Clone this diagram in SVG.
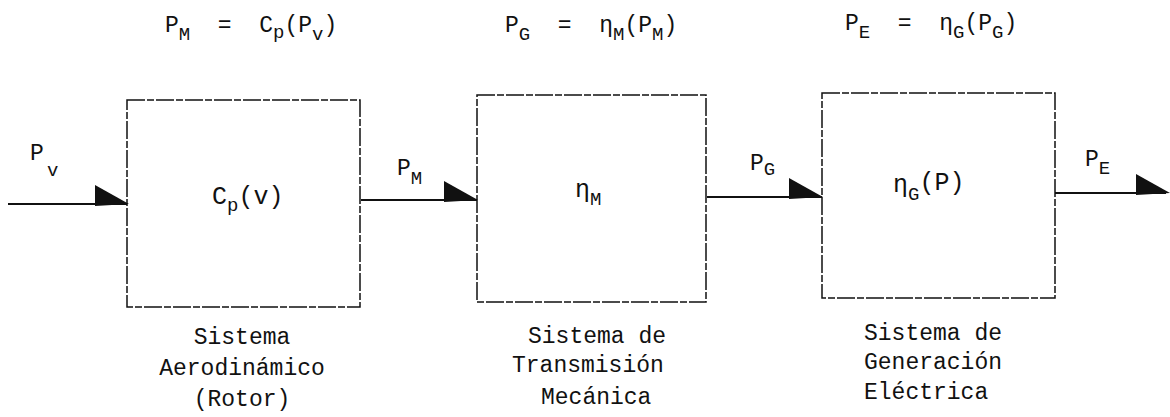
<svg xmlns="http://www.w3.org/2000/svg" width="1170" height="417" viewBox="0 0 1170 417">
<defs>
<style>
.box{fill:none;stroke:#111;stroke-width:1.5;stroke-dasharray:18 2 7 2}
.ln{stroke:#111;stroke-width:2.2;fill:none}
.ah{fill:#111}
text{font-family:"Liberation Mono","DejaVu Sans Mono",monospace;fill:#111}
.eq{font-size:23px}
.lb{font-size:23px}
.cl{font-size:25px}
.cap{font-size:23px}
.sub{font-size:19px}
.mid{text-anchor:middle}
</style>
</defs>
<g id="equations">
<text class="eq" x="165" y="32" xml:space="preserve">P<tspan class="sub" dy="8">M</tspan><tspan dy="-8">  =  C</tspan><tspan class="sub" dy="6">p</tspan><tspan dy="-6">(P</tspan><tspan class="sub" dy="8">v</tspan><tspan dy="-8">)</tspan></text>
<text class="eq" x="505" y="32" xml:space="preserve">P<tspan class="sub" dy="8">G</tspan><tspan dy="-8">  =  η</tspan><tspan class="sub" dy="8">M</tspan><tspan dy="-8">(P</tspan><tspan class="sub" dy="8">M</tspan><tspan dy="-8">)</tspan></text>
<text class="eq" x="845" y="30" xml:space="preserve">P<tspan class="sub" dy="8">E</tspan><tspan dy="-8">  =  η</tspan><tspan class="sub" dy="8">G</tspan><tspan dy="-8">(P</tspan><tspan class="sub" dy="8">G</tspan><tspan dy="-8">)</tspan></text>
</g>
<g id="connectors">
<line class="ln" x1="8" y1="204" x2="127" y2="204"/>
<polygon class="ah" points="95,185 95,206 129,204"/>
<line class="ln" x1="361" y1="200" x2="477" y2="200"/>
<polygon class="ah" points="444,181 444,202 478,200"/>
<line class="ln" x1="707" y1="197" x2="822" y2="197"/>
<polygon class="ah" points="789,178 789,199 823,197"/>
<line class="ln" x1="1055" y1="193" x2="1166" y2="193"/>
<polygon class="ah" points="1136,174 1136,195 1170,193"/>
<text class="lb" x="30" y="160">P<tspan class="sub" x="47" y="176">v</tspan></text>
<text class="lb" x="397" y="175">P<tspan class="sub" dy="9">M</tspan></text>
<text class="lb" x="750" y="170">P<tspan class="sub" dy="5">G</tspan></text>
<text class="lb" x="1085" y="166">P<tspan class="sub" dy="8">E</tspan></text>
</g>
<g id="aerodinamico">
<rect class="box" x="127" y="100" width="233" height="207"/>
<text class="cl" x="212" y="204">C<tspan class="sub" dy="7">p</tspan><tspan dy="-7">(v)</tspan></text>
<text class="cap mid" x="242" y="344">Sistema</text>
<text class="cap mid" x="242" y="375">Aerodinámico</text>
<text class="cap mid" x="242" y="406">(Rotor)</text>
</g>
<g id="transmision">
<rect class="box" x="477" y="95" width="229" height="207"/>
<text class="cl" x="575" y="197">η<tspan class="sub" dy="8">M</tspan></text>
<text class="cap" x="528" y="343">Sistema de</text>
<text class="cap" x="512" y="372">Transmisión</text>
<text class="cap" x="541" y="404">Mecánica</text>
</g>
<g id="generacion">
<rect class="box" x="822" y="93" width="233" height="205"/>
<text class="cl" x="893" y="192">η<tspan class="sub" dy="8">G</tspan><tspan dy="-10">(P)</tspan></text>
<text class="cap" x="864" y="340">Sistema de</text>
<text class="cap" x="864" y="369">Generación</text>
<text class="cap" x="864" y="399">Eléctrica</text>
</g>
</svg>
